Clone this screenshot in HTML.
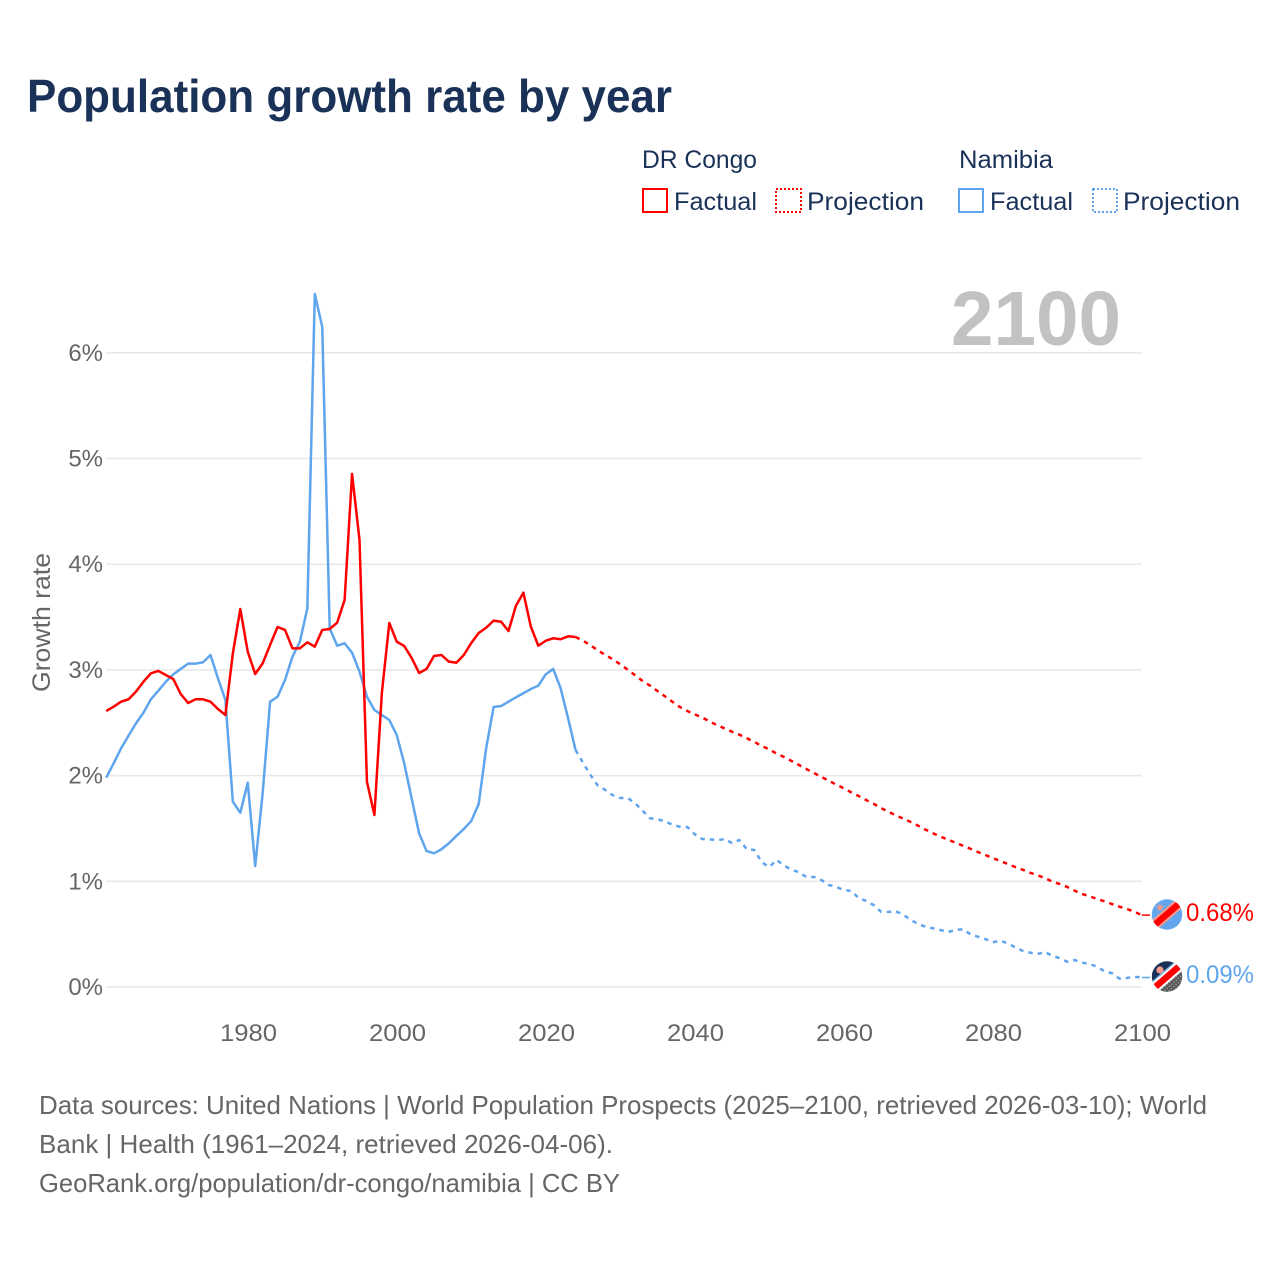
<!DOCTYPE html>
<html lang="en">
<head>
<meta charset="utf-8">
<title>Population growth rate by year</title>
<style>
html,body{margin:0;padding:0;background:#fff;}
svg{display:block;font-family:"Liberation Sans",sans-serif;}
</style>
</head>
<body>
<svg id="chart" xmlns="http://www.w3.org/2000/svg" width="1280" height="1280" viewBox="0 0 1280 1280">
  <defs>
    <clipPath id="flag-clip-a"><circle cx="1167" cy="914.5" r="15.2"/></clipPath>
    <clipPath id="flag-clip-b"><circle cx="1167" cy="976.5" r="15.2"/></clipPath>
    <pattern id="dots" width="3" height="3" patternUnits="userSpaceOnUse">
      <rect width="3" height="3" fill="#555"/>
      <circle cx="1.5" cy="1.5" r="0.8" fill="#aaa"/>
    </pattern>
  </defs>

  <text x="27" y="112" font-size="46" font-weight="700" fill="#1a3258" textLength="645" lengthAdjust="spacingAndGlyphs">Population growth rate by year</text>

  <g font-size="25" fill="#1a3258">
    <text x="642" y="168" textLength="115" lengthAdjust="spacingAndGlyphs">DR Congo</text>
    <text x="959" y="168" textLength="94" lengthAdjust="spacingAndGlyphs">Namibia</text>
    <rect x="643" y="189" width="24" height="23" fill="none" stroke="#ff0000" stroke-width="2"/>
    <text x="674" y="210" textLength="83" lengthAdjust="spacingAndGlyphs">Factual</text>
    <rect x="776" y="189" width="25" height="23" fill="none" stroke="#ff0000" stroke-width="2" stroke-dasharray="2 2"/>
    <text x="807" y="210" textLength="117" lengthAdjust="spacingAndGlyphs">Projection</text>
    <rect x="959" y="189" width="24" height="23" fill="none" stroke="#5fa5ee" stroke-width="2"/>
    <text x="990" y="210" textLength="83" lengthAdjust="spacingAndGlyphs">Factual</text>
    <rect x="1093" y="189" width="24" height="23" fill="none" stroke="#5fa5ee" stroke-width="2" stroke-dasharray="2 2"/>
    <text x="1123" y="210" textLength="117" lengthAdjust="spacingAndGlyphs">Projection</text>
  </g>

  <g id="grid"></g>
  <g id="y-ticks"></g>
  <g id="x-ticks"></g>

  <text transform="translate(50,692) rotate(-90)" font-size="25" fill="#666" textLength="139" lengthAdjust="spacingAndGlyphs">Growth rate</text>
  <text x="951" y="345" font-size="77" font-weight="700" fill="#c2c2c2" textLength="170" lengthAdjust="spacingAndGlyphs">2100</text>

  <g id="series"></g>

  <g clip-path="url(#flag-clip-a)">
    <rect x="1150" y="897" width="34" height="35" fill="#63a6ee"/>
    <g transform="rotate(-41 1167 914.5)">
      <rect x="1145" y="909" width="44" height="10.5" fill="#f59a8c"/>
      <rect x="1145" y="911" width="44" height="6.5" fill="#ff0000"/>
    </g>
    <polygon points="1160,903 1161.1,906 1164.4,906.2 1161.8,908.2 1162.7,911.3 1160,909.6 1157.3,911.3 1158.2,908.2 1155.6,906.2 1158.9,906" fill="#f59a8c"/>
  </g>
  <g clip-path="url(#flag-clip-b)">
    <rect x="1150" y="959" width="34" height="35" fill="#1a3258"/>
    <g transform="rotate(-41 1167 976.5)">
      <rect x="1145" y="977" width="44" height="20" fill="url(#dots)"/>
      <rect x="1145" y="970.3" width="44" height="1.2" fill="#7fb8f0"/>
      <rect x="1145" y="971.5" width="44" height="10.5" fill="#ffffff"/>
      <rect x="1145" y="973.5" width="44" height="6.5" fill="#ff0000"/>
    </g>
    <circle cx="1160" cy="970" r="3.6" fill="#f59a8c"/>
  </g>

  <text x="1186" y="921" font-size="25" fill="#ff0000" textLength="68" lengthAdjust="spacingAndGlyphs">0.68%</text>
  <text x="1186" y="983" font-size="25" fill="#5fa5ee" textLength="68" lengthAdjust="spacingAndGlyphs">0.09%</text>

  <g font-size="26" fill="#666">
    <text x="39" y="1114" textLength="1168" lengthAdjust="spacingAndGlyphs">Data sources: United Nations | World Population Prospects (2025–2100, retrieved 2026-03-10); World</text>
    <text x="39" y="1153" textLength="574" lengthAdjust="spacingAndGlyphs">Bank | Health (1961–2024, retrieved 2026-04-06).</text>
    <text x="39" y="1192" textLength="581" lengthAdjust="spacingAndGlyphs">GeoRank.org/population/dr-congo/namibia | CC BY</text>
  </g>
</svg>
<script>
var yTickValues = [0, 1, 2, 3, 4, 5, 6];
var xTickYears = [1980, 2000, 2020, 2040, 2060, 2080, 2100];
var factualStartYear = 1961;
var projectionStartYear = 2025;

var congoFactual = [
  2.611, 2.652, 2.699, 2.722, 2.794, 2.888, 2.968, 2.990, 2.952, 2.914,
  2.772, 2.687, 2.722, 2.722, 2.699, 2.630, 2.573, 3.157, 3.576, 3.172,
  2.961, 3.062, 3.236, 3.406, 3.378, 3.204, 3.204, 3.261, 3.220, 3.378,
  3.387, 3.447, 3.661, 4.853, 4.229, 1.942, 1.627, 2.781, 3.444, 3.267,
  3.226, 3.113, 2.971, 3.009, 3.132, 3.141, 3.078, 3.068, 3.141, 3.254,
  3.349, 3.399, 3.466, 3.456, 3.368, 3.607, 3.730, 3.409, 3.229, 3.276,
  3.299, 3.290, 3.318, 3.311
];
var congoProjection = [
  3.276, 3.233, 3.185, 3.141, 3.100, 3.053, 3.002, 2.949, 2.895, 2.851,
  2.800, 2.750, 2.699, 2.649, 2.611, 2.580, 2.548, 2.514, 2.476, 2.447,
  2.415, 2.387, 2.353, 2.318, 2.280, 2.249, 2.207, 2.176, 2.138, 2.100,
  2.062, 2.025, 1.987, 1.952, 1.914, 1.880, 1.842, 1.807, 1.769, 1.734,
  1.693, 1.658, 1.624, 1.592, 1.561, 1.526, 1.488, 1.454, 1.422, 1.394,
  1.365, 1.337, 1.308, 1.277, 1.249, 1.220, 1.192, 1.164, 1.135, 1.110,
  1.081, 1.057, 1.031, 0.996, 0.974, 0.946, 0.911, 0.880, 0.858, 0.833,
  0.811, 0.785, 0.760, 0.738, 0.712, 0.68
];
var namibiaFactual = [
  1.980, 2.116, 2.258, 2.378, 2.495, 2.595, 2.722, 2.803, 2.888, 2.958,
  3.009, 3.059, 3.059, 3.072, 3.141, 2.921, 2.715, 1.753, 1.649, 1.933,
  1.145, 1.833, 2.699, 2.746, 2.904, 3.125, 3.267, 3.583, 6.556, 6.244,
  3.394, 3.229, 3.252, 3.163, 2.983, 2.746, 2.621, 2.573, 2.526, 2.384,
  2.116, 1.785, 1.454, 1.287, 1.265, 1.303, 1.360, 1.429, 1.495, 1.570,
  1.731, 2.258, 2.649, 2.658, 2.699, 2.741, 2.779, 2.819, 2.851, 2.958,
  3.009, 2.826, 2.542, 2.242
];
var namibiaProjection = [
  2.122, 2.006, 1.904, 1.864, 1.814, 1.788, 1.788, 1.738, 1.668, 1.596,
  1.587, 1.568, 1.535, 1.517, 1.514, 1.445, 1.400, 1.397, 1.388, 1.400,
  1.362, 1.391, 1.303, 1.296, 1.180, 1.135, 1.202, 1.148, 1.110, 1.085,
  1.041, 1.041, 1.012, 0.965, 0.946, 0.918, 0.908, 0.842, 0.814, 0.776,
  0.712, 0.710, 0.716, 0.684, 0.634, 0.596, 0.570, 0.555, 0.539, 0.520,
  0.539, 0.546, 0.499, 0.476, 0.454, 0.423, 0.438, 0.413, 0.376, 0.343,
  0.325, 0.312, 0.331, 0.296, 0.272, 0.239, 0.255, 0.230, 0.218, 0.192,
  0.149, 0.130, 0.079, 0.085, 0.097, 0.09
];

var SVG_NS = 'http://www.w3.org/2000/svg';

function xScale(year) {
  return 106.2 + (year - 1961) * 7.45;
}
function yScale(value) {
  return 987 - value * 105.7;
}
function pathFrom(values, startYear, previous) {
  var pts = [];
  if (previous !== null) {
    pts.push(xScale(startYear - 1).toFixed(2) + ',' + yScale(previous).toFixed(2));
  }
  for (var i = 0; i < values.length; i++) {
    pts.push(xScale(startYear + i).toFixed(2) + ',' + yScale(values[i]).toFixed(2));
  }
  return 'M' + pts.join('L');
}

var gridGroup = document.getElementById('grid');
var yTickGroup = document.getElementById('y-ticks');
var xTickGroup = document.getElementById('x-ticks');
var seriesGroup = document.getElementById('series');

yTickValues.forEach(function (v) {
  var line = document.createElementNS(SVG_NS, 'line');
  
  
  line.setAttribute('x1', xScale(1961));
  line.setAttribute('x2', xScale(2100));
  line.setAttribute('y1', yScale(v));
  line.setAttribute('y2', yScale(v));
  line.setAttribute('stroke', '#e8e8e8');
  line.setAttribute('stroke-width', '1.5');
  gridGroup.appendChild(line);

  var label = document.createElementNS(SVG_NS, 'text');
  
  
  label.setAttribute('x', 103);
  label.setAttribute('y', yScale(v) + 8);
  label.setAttribute('text-anchor', 'end');
  label.setAttribute('font-size', '24');
  label.setAttribute('fill', '#666');
  label.textContent = v + '%';
  yTickGroup.appendChild(label);
});

xTickYears.forEach(function (year) {
  var label = document.createElementNS(SVG_NS, 'text');
  
  
  label.setAttribute('x', xScale(year) + 0.8);
  label.setAttribute('y', 1041);
  label.setAttribute('text-anchor', 'middle');
  label.setAttribute('font-size', '24');
  label.setAttribute('fill', '#666');
  label.setAttribute('textLength', '57');
  label.setAttribute('lengthAdjust', 'spacingAndGlyphs');
  label.textContent = year;
  xTickGroup.appendChild(label);
});

function drawLine(name, values, startYear, previous, color, dashed) {
  var path = document.createElementNS(SVG_NS, 'path');
  
  
  path.setAttribute('d', pathFrom(values, startYear, previous));
  path.setAttribute('fill', 'none');
  path.setAttribute('stroke', color);
  path.setAttribute('stroke-width', '2.5');
  path.setAttribute('stroke-linejoin', 'round');
  if (dashed) {
    path.setAttribute('stroke-dasharray', '4.5 5');
  }
  seriesGroup.appendChild(path);
}

function drawLeader(name, value, color) {
  var leader = document.createElementNS(SVG_NS, 'line');
  
  
  leader.setAttribute('x1', xScale(2100));
  leader.setAttribute('x2', 1150);
  leader.setAttribute('y1', yScale(value));
  leader.setAttribute('y2', yScale(value));
  leader.setAttribute('stroke', color);
  leader.setAttribute('stroke-width', '1.5');
  seriesGroup.appendChild(leader);
}

drawLine('namibia-factual-line', namibiaFactual, factualStartYear, null, '#5fa5ee', false);
drawLine('namibia-projection-line', namibiaProjection, projectionStartYear, namibiaFactual[namibiaFactual.length - 1], '#5fa5ee', true);
drawLine('dr-congo-factual-line', congoFactual, factualStartYear, null, '#ff0000', false);
drawLine('dr-congo-projection-line', congoProjection, projectionStartYear, congoFactual[congoFactual.length - 1], '#ff0000', true);
drawLeader('dr-congo-leader-line', congoProjection[congoProjection.length - 1], '#ff0000');
drawLeader('namibia-leader-line', namibiaProjection[namibiaProjection.length - 1], '#5fa5ee');
</script>
</body>
</html>
